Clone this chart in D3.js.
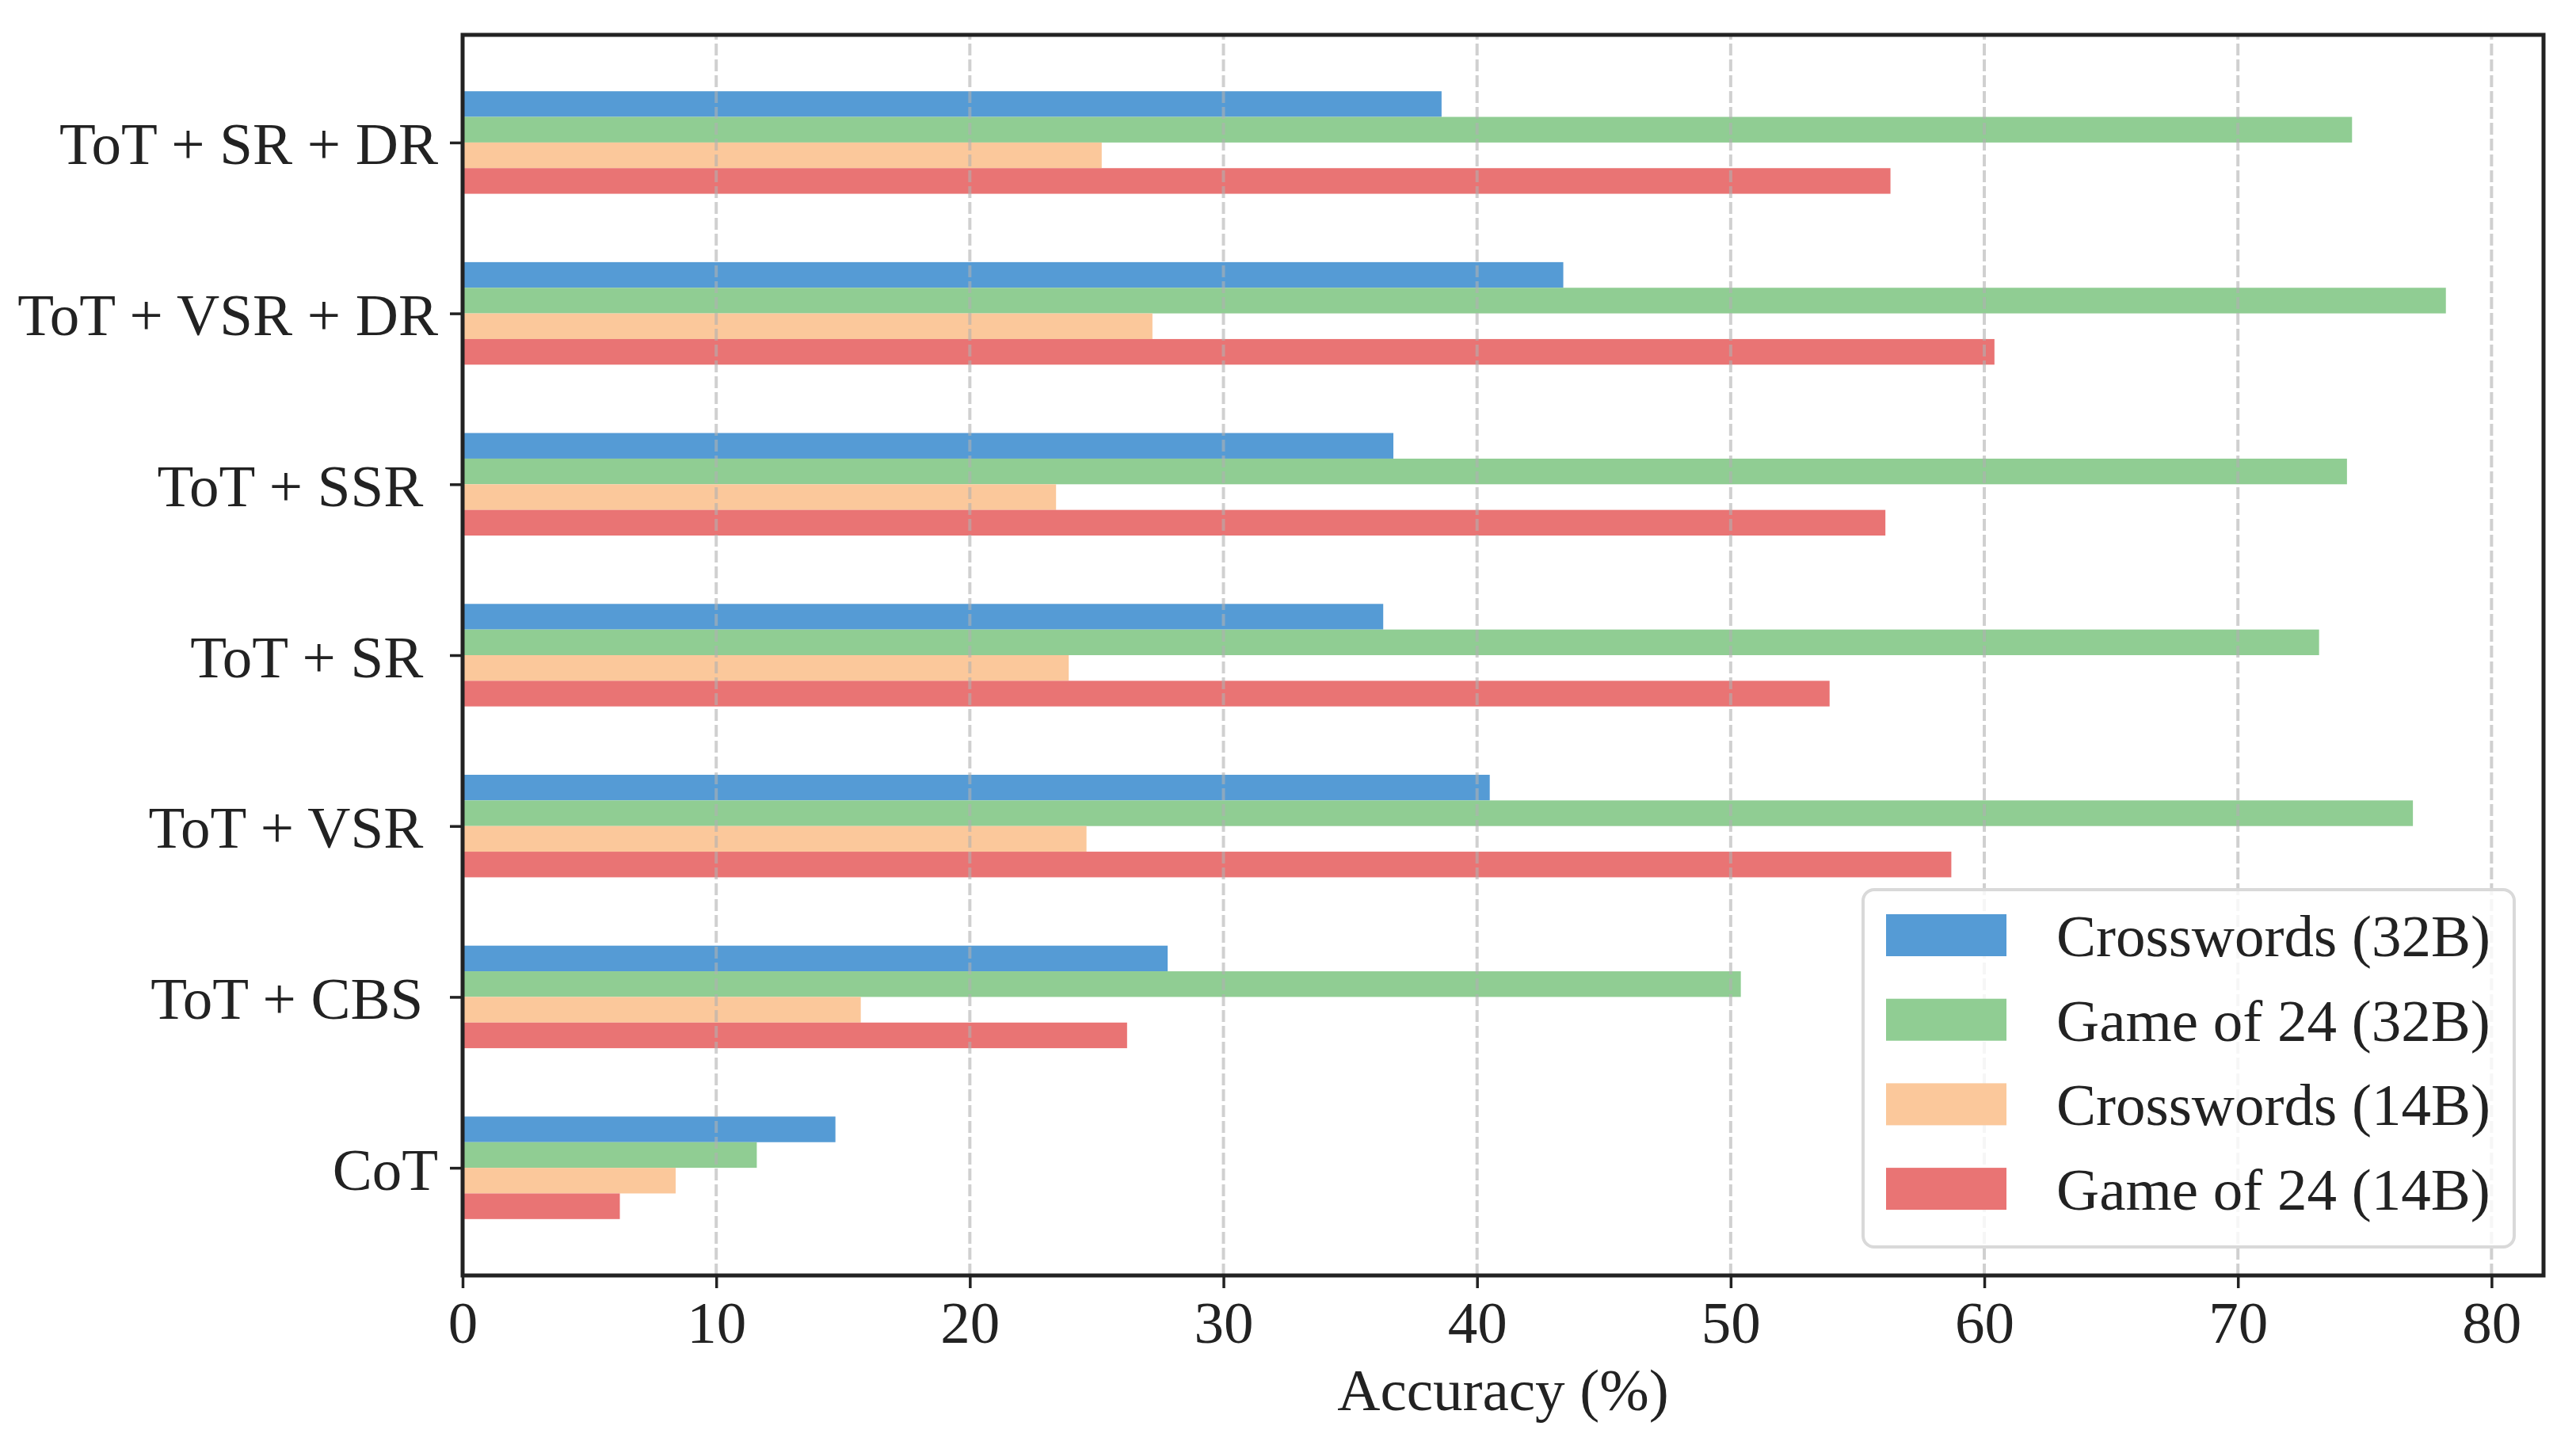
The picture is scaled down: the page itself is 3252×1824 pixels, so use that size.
<!DOCTYPE html>
<html>
<head>
<meta charset="utf-8">
<script src="https://cdn.jsdelivr.net/npm/d3@7"></script>
<style>
  html, body { margin: 0; padding: 0; background: #fff; }
  svg { display: block; font-family: "Liberation Serif", "Times New Roman", serif; }
  text { white-space: pre; }
</style>
</head>
<body>
<svg id="chart" width="3252" height="1824"></svg>
<script>
// categories, bottom to top (matplotlib barh order)
const methods = ['CoT', 'ToT + CBS ', 'ToT + VSR ', 'ToT + SR ', 'ToT + SSR ', 'ToT + VSR + DR', 'ToT + SR + DR'];

const seriesNames = ['Crosswords (32B)', 'Game of 24 (32B)', 'Crosswords (14B)', 'Game of 24 (14B)'];
const seriesColors = ['#559bd5', '#90cd93', '#fbc89b', '#e97474'];

// values per method, same order as methods
const crosswords32 = [14.7, 27.8, 40.5, 36.3, 36.7, 43.4, 38.6];
const game24_32 = [11.6, 50.4, 76.9, 73.2, 74.3, 78.2, 74.5];
const crosswords14 = [8.4, 15.7, 24.6, 23.9, 23.4, 27.2, 25.2];
const game24_14 = [6.2, 26.2, 58.7, 53.9, 56.1, 60.4, 56.3];

const xTicks = [0, 10, 20, 30, 40, 50, 60, 70, 80];

const series = [crosswords32, game24_32, crosswords14, game24_14];

const svg = d3.select('#chart');
const plotLeft = 584, plotRight = 3211, plotTop = 44, plotBottom = 1610;
const barH = 0.15;
const fontSize = 75;
const ink = '#222222';

const x = d3.scaleLinear().domain([0, 82.05]).range([plotLeft, plotRight]);
const y = d3.scaleLinear().domain([-0.63, methods.length - 1 + 0.63]).range([plotBottom, plotTop]);

// bars
series.forEach((vals, j) => {
    const offset = (1.5 - j) * barH; // blue on top of each group
    svg.append('g')
        .selectAll('rect')
        .data(vals)
        .enter()
        .append('rect')
        .attr('x', x(0))
        .attr('y', (d, i) => y(i + offset + barH / 2))
        .attr('width', d => x(d) - x(0))
        .attr('height', y(0) - y(barH))
        .attr('fill', seriesColors[j]);
});

// dashed grid over the bars
svg.append('g')
    .selectAll('line')
    .data(xTicks)
    .enter()
    .append('line')
    .attr('x1', d => x(d))
    .attr('x2', d => x(d))
    .attr('y1', plotBottom)
    .attr('y2', plotTop)
    .attr('stroke', '#b0b0b0')
    .attr('stroke-opacity', 0.6)
    .attr('stroke-width', 4)
    .attr('stroke-dasharray', '15,5');

// x axis
const xAxis = d3.axisBottom(x)
    .tickValues(xTicks)
    .tickSize(16)
    .tickPadding(16)
    .tickFormat(d3.format('d'));
const gx = svg.append('g')
    .attr('transform', `translate(0,${plotBottom})`)
    .call(xAxis);
gx.select('.domain').remove();
gx.selectAll('.tick line').attr('stroke', ink).attr('stroke-width', 3.5);
gx.selectAll('.tick text')
    .attr('font-family', '"Liberation Serif", serif')
    .attr('font-size', fontSize)
    .attr('fill', ink)
    .attr('dy', null)
    .attr('y', 85);

// y axis
const yAxis = d3.axisLeft(y)
    .tickValues(d3.range(methods.length))
    .tickSize(16)
    .tickPadding(15)
    .tickFormat(i => methods[i]);
const gy = svg.append('g')
    .attr('transform', `translate(${plotLeft},0)`)
    .call(yAxis);
gy.select('.domain').remove();
gy.selectAll('.tick line').attr('stroke', ink).attr('stroke-width', 3.5);
gy.selectAll('.tick text')
    .attr('font-family', '"Liberation Serif", serif')
    .attr('font-size', fontSize)
    .attr('fill', ink)
    .attr('dy', null)
    .attr('y', 27);

// frame
svg.append('rect')
    .attr('x', plotLeft)
    .attr('y', plotTop)
    .attr('width', plotRight - plotLeft)
    .attr('height', plotBottom - plotTop)
    .attr('fill', 'none')
    .attr('stroke', ink)
    .attr('stroke-width', 5);

// x label
svg.append('text')
    .attr('x', (plotLeft + plotRight) / 2)
    .attr('y', 1780)
    .attr('text-anchor', 'middle')
    .attr('font-size', fontSize)
    .attr('fill', ink)
    .text('Accuracy (%)');

// legend
const legend = svg.append('g');
legend.append('rect')
    .attr('x', 2352)
    .attr('y', 1123)
    .attr('width', 3174 - 2352)
    .attr('height', 1574 - 1123)
    .attr('rx', 14)
    .attr('fill', '#ffffff')
    .attr('fill-opacity', 0.8)
    .attr('stroke', '#d9d9d9')
    .attr('stroke-width', 4);

const rows = legend.selectAll('g.row')
    .data(seriesNames)
    .enter()
    .append('g')
    .attr('class', 'row')
    .attr('transform', (d, i) => `translate(2381,${1154 + i * 106.7})`);
rows.append('rect')
    .attr('width', 152)
    .attr('height', 53)
    .attr('fill', (d, i) => seriesColors[i]);
rows.append('text')
    .attr('x', 215)
    .attr('y', 53)
    .attr('font-size', fontSize)
    .attr('fill', ink)
    .text(d => d);
</script>
</body>
</html>
